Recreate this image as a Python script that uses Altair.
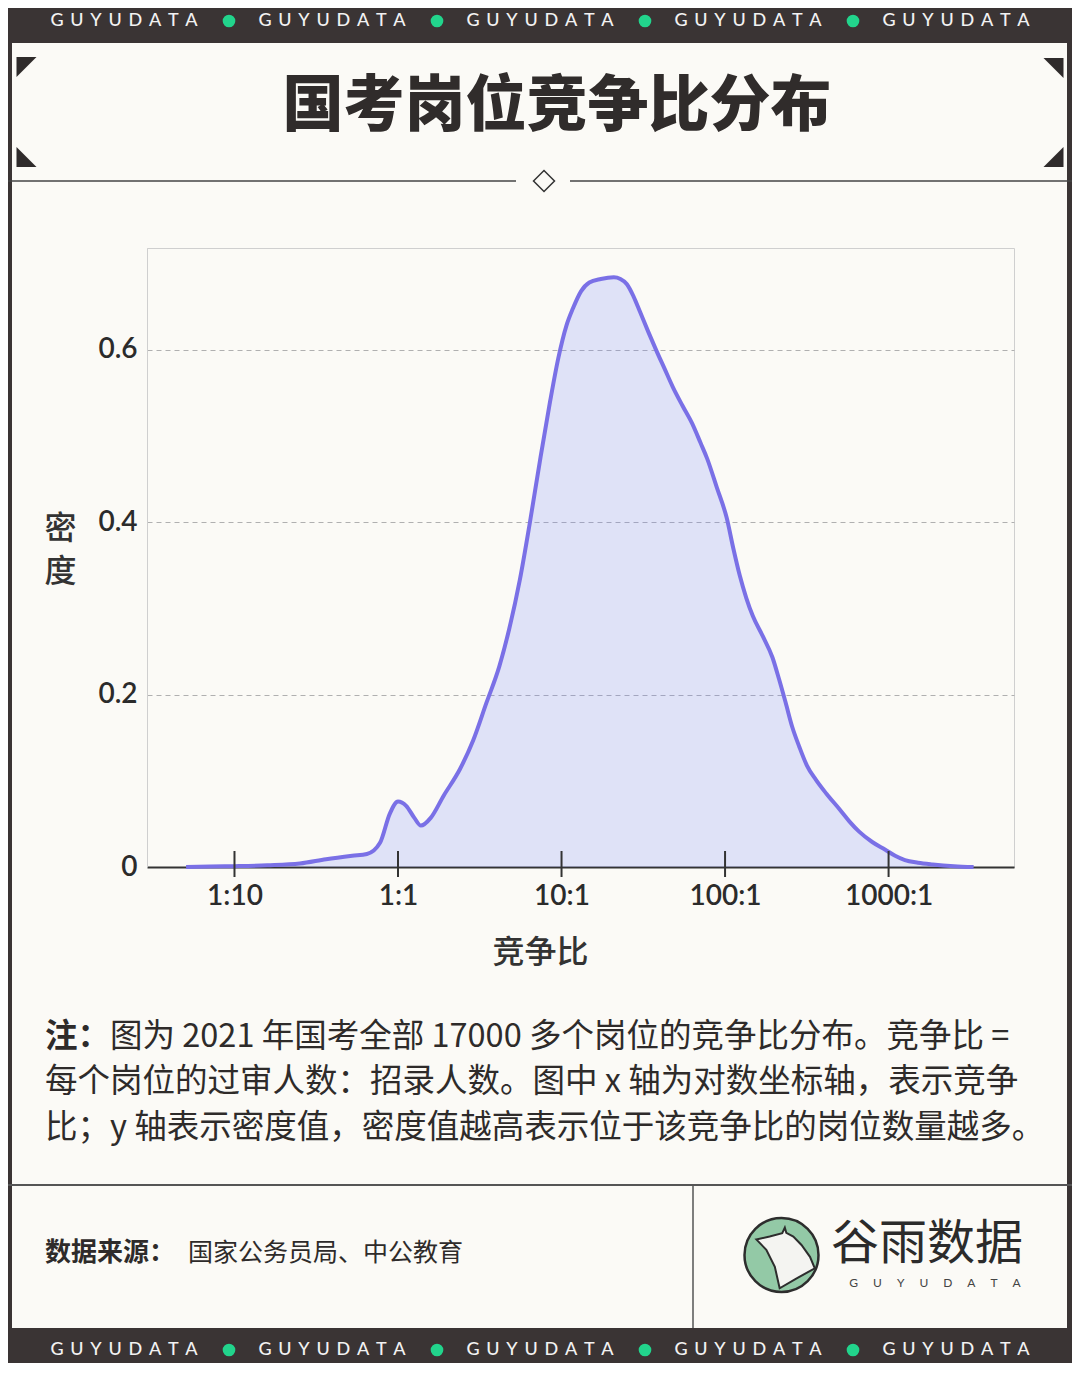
import altair as alt
import pandas as pd

# ---- data (x = log10 of competition ratio) ----
log_ratio = [-1.296, -1.15, -1.0, -0.8, -0.6, -0.44, -0.28, -0.19, -0.11, -0.05,
             0.0, 0.05, 0.10, 0.14, 0.20, 0.28, 0.38, 0.46, 0.54, 0.62,
             0.68, 0.745, 0.806, 0.867, 0.93, 0.98, 1.03, 1.07, 1.12, 1.17,
             1.24, 1.32, 1.36, 1.40, 1.44, 1.48, 1.53, 1.58, 1.63, 1.68,
             1.74, 1.80, 1.85, 1.89, 1.95, 2.01, 2.05, 2.09, 2.13, 2.17,
             2.23, 2.29, 2.33, 2.37, 2.41, 2.455, 2.50, 2.556, 2.62, 2.70,
             2.76, 2.82, 2.90, 2.98, 3.04, 3.10, 3.18, 3.27, 3.40, 3.52]
density = [0.000, 0.0005, 0.001, 0.002, 0.004, 0.009, 0.013, 0.015, 0.028, 0.062,
           0.076, 0.071, 0.057, 0.048, 0.057, 0.083, 0.114, 0.147, 0.190, 0.233,
           0.276, 0.333, 0.399, 0.470, 0.540, 0.590, 0.628, 0.648, 0.668, 0.678,
           0.682, 0.684, 0.682, 0.676, 0.662, 0.644, 0.621, 0.599, 0.578, 0.557,
           0.535, 0.514, 0.492, 0.474, 0.440, 0.405, 0.370, 0.338, 0.312, 0.291,
           0.268, 0.243, 0.218, 0.191, 0.163, 0.139, 0.118, 0.101, 0.085, 0.067,
           0.053, 0.041, 0.029, 0.020, 0.013, 0.008, 0.005, 0.003, 0.001, 0.000]
assert len(log_ratio) == len(density)

x_tick_values = [-1, 0, 1, 2, 3]
x_tick_labels = ["1:10", "1:1", "10:1", "100:1", "1000:1"]
y_tick_values = [0, 0.2, 0.4, 0.6]
y_tick_labels = ["0", "0.2", "0.4", "0.6"]

title_text = "国考岗位竞争比分布"
x_title = "竞争比"
y_title = ["密", "度"]
note_head = "注："
note_lines = [
    "图为 2021 年国考全部 17000 多个岗位的竞争比分布。竞争比 =",
    "每个岗位的过审人数：招录人数。图中 x 轴为对数坐标轴，表示竞争",
    "比；y 轴表示密度值，密度值越高表示位于该竞争比的岗位数量越多。",
]
source_label = "数据来源："
source_text = "国家公务员局、中公教育"
brand_cn = "谷雨数据"
brand_en = "GUYUDATA"
band_word = "GUYUDATA"

# ---- styling ----
DARK = "#3a3434"
BG = "#fbfaf6"
GREEN = "#22d48c"
INK = "#2e2b2a"
CJK = "Noto Sans CJK SC"
LAT = "Lato"

W, H = 867, 619  # plot area (ref x 147..1014, y 248..867)
RIGHT = 925      # right edge of the whole card in plot coordinates

df = pd.DataFrame({"log_ratio": log_ratio, "density": density})
ticks_df = pd.DataFrame({"log_ratio": x_tick_values})
one = pd.DataFrame({"k": [0]})


def expr_map(values, labels):
    e = "''"
    for v, l in reversed(list(zip(values, labels))):
        e = f"(abs(datum.value - ({v})) < 1e-6 ? '{l}' : {e})"
    return e


x_scale = alt.Scale(domain=[-1.535, 3.767], nice=False, zero=False)
x_axis = alt.Axis(values=x_tick_values, labelExpr=expr_map(x_tick_values, x_tick_labels),
                  title=x_title, ticks=False, tickSize=0, grid=False,
                  domainColor="#333333", domainWidth=2,
                  labelFont=LAT, labelFontSize=28, labelFontWeight=600, labelColor="#2b2b2b",
                  labelPadding=15, labelBaseline="top",
                  titleFont=CJK, titleFontSize=32, titleFontWeight=500, titleColor="#333333",
                  titleX=393, titleY=85, titleAlign="center", titleBaseline="middle")
y_scale = alt.Scale(domain=[0, 0.718], nice=False, zero=True)
y_axis = alt.Axis(values=y_tick_values, labelExpr=expr_map(y_tick_values, y_tick_labels),
                  title=y_title, ticks=False, tickSize=0, grid=True,
                  gridDash=[5, 4], gridColor="#b0b0b0", gridWidth=1,
                  domainColor="#cfcfcf", domainWidth=1,
                  labelFont=LAT, labelFontSize=28, labelFontWeight=600, labelColor="#2b2b2b",
                  labelPadding=10,
                  titleFont=CJK, titleFontSize=32, titleFontWeight=500, titleColor="#333333",
                  titleAngle=0, titleX=-87, titleY=280, titleAlign="center",
                  titleBaseline="middle", titleLineHeight=43)

x_enc = alt.X("log_ratio:Q", scale=x_scale, axis=x_axis)
y_enc = alt.Y("density:Q", scale=y_scale, axis=y_axis)

area = alt.Chart(df).mark_area(interpolate="monotone", color="#7284ff", opacity=0.2).encode(x=x_enc, y=y_enc)
line = alt.Chart(df).mark_line(interpolate="monotone", color="#7a70e6", strokeWidth=4).encode(x=x_enc, y=y_enc)
tick_rules = alt.Chart(ticks_df).mark_rule(color="#333333", strokeWidth=2).encode(
    x=x_enc, y=alt.value(603), y2=alt.value(629))


def txt(s, x, y, size, color=INK, font=CJK, weight="normal", align="center", baseline="middle"):
    return alt.Chart(one).mark_text(text=s, fontSize=size, font=font, fontWeight=weight, color=color,
                                    align=align, baseline=baseline).encode(x=alt.value(x), y=alt.value(y))


def rect(x, x2, y, y2, color):
    return alt.Chart(one).mark_rect(color=color).encode(
        x=alt.value(x), x2=alt.value(x2), y=alt.value(y), y2=alt.value(y2))


def hrule(x, x2, y, color, w):
    return alt.Chart(one).mark_rule(color=color, strokeWidth=w).encode(
        x=alt.value(x), x2=alt.value(x2), y=alt.value(y))


def vrule(x, y, y2, color, w):
    return alt.Chart(one).mark_rule(color=color, strokeWidth=w).encode(
        x=alt.value(x), y=alt.value(y), y2=alt.value(y2))


def sym(shape, x, y, size, fill=None, stroke=None, sw=0, filled=True):
    kw = dict(shape=shape, size=size, filled=filled, opacity=1)
    if fill is not None:
        kw["fill"] = fill
        kw["fillOpacity"] = 1
    if stroke is not None:
        kw["stroke"] = stroke
        kw["strokeWidth"] = sw
        kw["strokeOpacity"] = 1
    return alt.Chart(one).mark_point(**kw).encode(x=alt.value(x), y=alt.value(y))


deco = []
# header / footer bands
deco.append(rect(-139, RIGHT, -240, -205, DARK))
deco.append(rect(-139, RIGHT, 1080, 1120, DARK))
# side borders
deco.append(rect(-139, -135, -205, 1080, DARK))
deco.append(rect(RIGHT - 5, RIGHT, -205, 1080, DARK))

spaced = "\u2005\u2009".join(band_word)
word_x = [-23, 185, 393, 601, 809]
dot_x = [82, 290, 498, 706]
back = []
for yy in (-227, 1102):
    for xx in word_x:
        back.append(txt(spaced, xx, yy, 18, color="#f2f2f2", font=LAT, weight=500))
    for xx in dot_x:
        back.append(sym("circle", xx, yy, 160, fill=GREEN))

# corner triangles
back.append(sym("M-1,-1L1,-1L-1,1Z", -120.5, -181, 400, fill="#2f2b2b"))
back.append(sym("M-1,-1L-1,1L1,1Z", -120.5, -91, 400, fill="#2f2b2b"))
back.append(sym("M-1,-1L1,-1L1,1Z", 906.5, -180, 400, fill="#2f2b2b"))
back.append(sym("M1,-1L1,1L-1,1Z", 906.5, -91, 400, fill="#2f2b2b"))

# title
back.append(txt(title_text, 410, -140, 61, color="#302c2b", weight=900))

# separator with diamond
back.append(hrule(-139, 369, -67, "#444444", 1.5))
back.append(hrule(423, RIGHT, -67, "#444444", 1.5))
back.append(sym("diamond", 397, -67, 440, fill=BG, stroke="#333333", sw=1.5))

# note
back.append(txt(note_head, -102, 789, 32.5, weight="bold", align="left"))
back.append(txt(note_lines[0], -37, 789, 32.5, align="left"))
back.append(txt(note_lines[1], -102, 834, 32.5, align="left"))
back.append(txt(note_lines[2], -102, 880, 32.5, align="left"))

# footer dividers
back.append(hrule(-139, RIGHT, 937, "#555555", 2))
back.append(vrule(546, 937, 1080, "#555555", 1.5))

# source
back.append(txt(source_label, -102, 1005, 26, weight="bold", align="left"))
back.append(txt(source_text, 41, 1005, 25, align="left"))

# logo
back.append(sym("circle", 634.5, 1007, 5476, fill="#93c9a6", stroke="#2d2d2d", sw=2.5))
bird = ("M-0.68,-0.42L-0.32,-0.5L0.02,-0.59L0.09,-0.74L0.13,-0.6L0.32,-0.5L0.54,-0.27"
        "L0.77,0.05L0.9,0.36L0.41,0.63L-0.05,0.9L-0.18,0.32L-0.41,-0.14Z")
back.append(sym(bird, 634.5, 1007, 5476, fill="#f4f4f1", stroke="#2d2d2d", sw=2))
back.append(txt(brand_cn, 780, 997, 48, color="#2b2b2b"))
back.append(txt("\u2003\u2002".join(brand_en), 788, 1035, 12, color="#444444", font=LAT))

chart = alt.layer(*deco, area, line, tick_rules, *back).properties(
    width=W, height=H,
    padding={"left": 139, "top": 240, "right": 58, "bottom": 496},
    autosize=alt.AutoSizeParams(type="none"),
    background=BG,
).configure_view(stroke="#cfcfcf", strokeWidth=1)

chart.save("out.html", embed_options={"renderer": "svg", "actions": False})
